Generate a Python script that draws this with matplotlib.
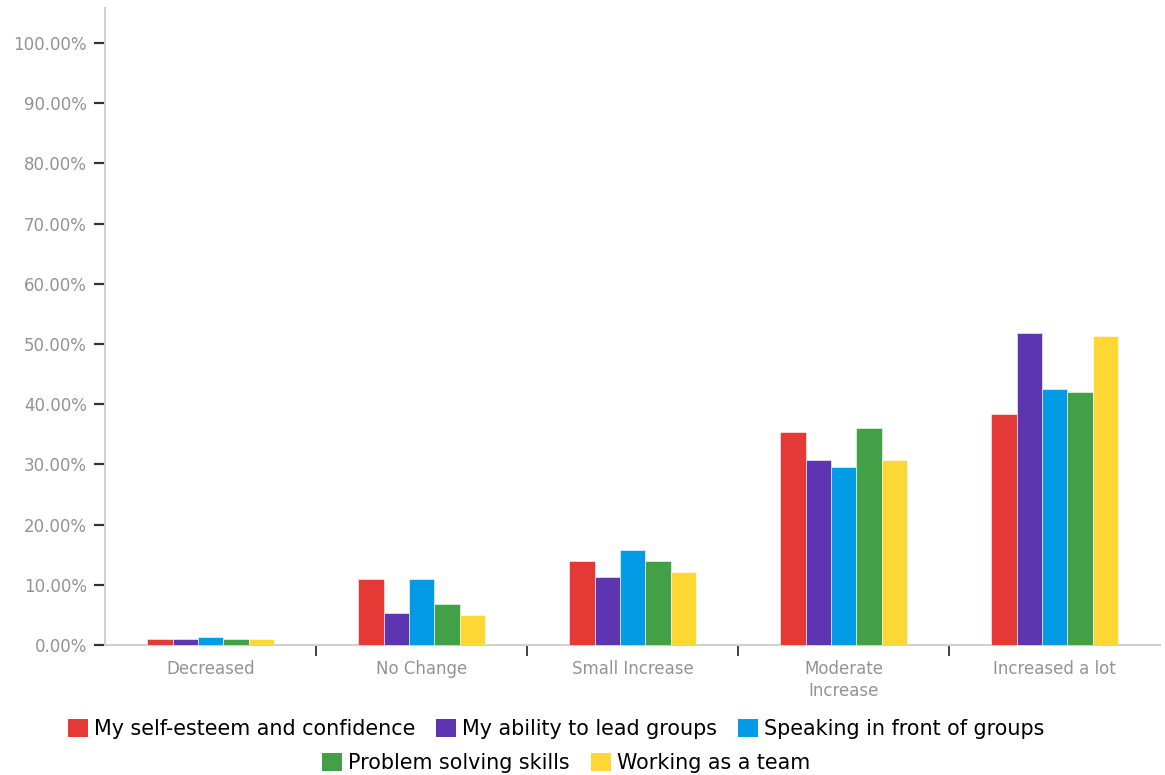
import numpy as np
import matplotlib.pyplot as plt
from matplotlib.patches import Patch

categories = ["Decreased", "No Change", "Small Increase", "Moderate\nIncrease", "Increased a lot"]
series_names = ["My self-esteem and confidence", "My ability to lead groups",
                "Speaking in front of groups", "Problem solving skills", "Working as a team"]
self_esteem = [1.0, 11.0, 13.9, 35.4, 38.4]
lead_groups = [1.0, 5.3, 11.3, 30.7, 51.9]
speaking = [1.3, 11.0, 15.8, 29.5, 42.6]
problem_solving = [1.0, 6.8, 13.9, 36.0, 42.1]
teamwork = [1.0, 5.0, 12.2, 30.7, 51.4]
series_values = [self_esteem, lead_groups, speaking, problem_solving, teamwork]
colors = ["#E53935", "#5E35B1", "#039BE5", "#43A047", "#FDD835"]

fig = plt.figure(figsize=(11.65, 7.75), dpi=100)
ax = fig.add_axes([105 / 1165, 1 - 645 / 775, 1 - 105 / 1165 - 0.004, 637 / 775])

x = np.arange(len(categories))
bw = 0.12
for i, (vals, c) in enumerate(zip(series_values, colors)):
    ax.bar(x + (i - 2) * bw, vals, width=bw, color=c, edgecolor="white", linewidth=0.4, zorder=3)

ax.set_xlim(-0.5, len(categories) - 0.5)
ax.set_ylim(0, 105.8)
ax.set_yticks(np.arange(0, 101, 10))
ax.set_yticklabels(["%.2f%%" % v for v in np.arange(0, 101, 10)])

# category labels centred, ticks on the boundaries
ax.set_xticks(x)
ax.set_xticklabels(categories, linespacing=1.3)
ax.tick_params(axis="x", length=0, pad=11, labelsize=12, labelcolor="#939393")
ax.set_xticks(np.arange(0.5, len(categories) - 1, 1), minor=True)
ax.tick_params(axis="x", which="minor", length=8, width=1.3, color="#333333")
ax.tick_params(axis="y", length=8, width=1.6, color="#333333", pad=5,
               labelsize=12, labelcolor="#939393")

for side in ["top", "right"]:
    ax.spines[side].set_visible(False)
ax.spines["left"].set_color("#d0d0d0")
ax.spines["bottom"].set_color("#d0d0d0")
ax.spines["left"].set_linewidth(1.5)
ax.spines["bottom"].set_linewidth(1.5)

handles = [Patch(facecolor=c, edgecolor="none") for c in colors]
leg_kw = dict(frameon=False, fontsize=14.9, handlelength=0.97, handleheight=0.97,
              handletextpad=0.3, columnspacing=1.0, loc="center")
leg1 = fig.legend(handles[:3], series_names[:3], ncol=3,
                  bbox_to_anchor=(556 / 1165, 1 - 729 / 775), **leg_kw)
leg2 = fig.legend(handles[3:], series_names[3:], ncol=2,
                  bbox_to_anchor=(566 / 1165, 1 - 763 / 775), **leg_kw)

fig.savefig("out.png", dpi=100)
